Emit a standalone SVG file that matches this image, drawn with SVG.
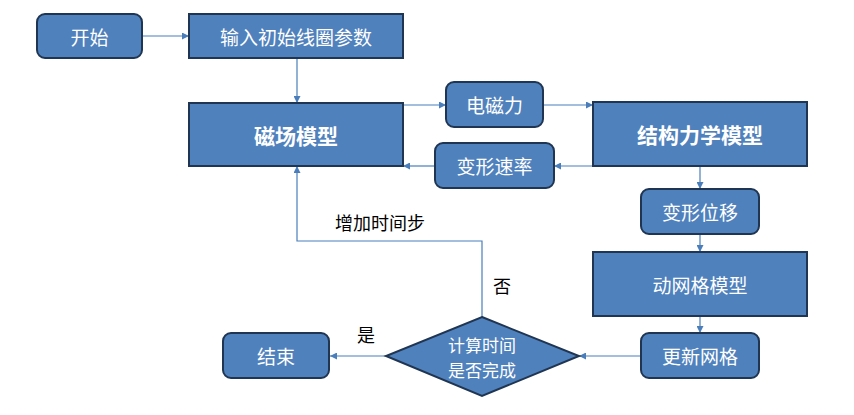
<svg xmlns="http://www.w3.org/2000/svg" width="854" height="415" viewBox="0 0 854 415">
<defs>
<marker id="ah" viewBox="0 0 10 10" refX="10" refY="5" markerWidth="7" markerHeight="7" markerUnits="userSpaceOnUse" orient="auto">
<path d="M0,0 L10,5 L0,10 z" fill="#4A7EBB"/>
</marker>
<style>
.n{fill:#4F81BD;stroke:#1F3552;stroke-width:2}
.t{fill:#fff;font-family:"Noto Sans CJK SC","Noto Sans",sans-serif;font-size:19px;text-anchor:middle;dominant-baseline:central}
.b{font-weight:bold;font-size:21px}
.d{font-size:17px}
.l{fill:#000;font-family:"Noto Sans CJK SC","Noto Sans",sans-serif;font-size:18px;text-anchor:middle;dominant-baseline:central}
.c{fill:none;stroke:#4A7EBB;stroke-width:1.2}
</style>
</defs>
<rect width="854" height="415" fill="#fff"/>
<g id="connectors">
<path class="c" d="M142,36 H189" marker-end="url(#ah)"/>
<path class="c" d="M297,58 V103" marker-end="url(#ah)"/>
<path class="c" d="M403,105 H446" marker-end="url(#ah)"/>
<path class="c" d="M543,105 H593" marker-end="url(#ah)"/>
<path class="c" d="M593,166 H554" marker-end="url(#ah)"/>
<path class="c" d="M435,166 H403" marker-end="url(#ah)"/>
<path class="c" d="M700,166 V189" marker-end="url(#ah)"/>
<path class="c" d="M700,234 V252" marker-end="url(#ah)"/>
<path class="c" d="M700,316 V333" marker-end="url(#ah)"/>
<path class="c" d="M641,356 H579" marker-end="url(#ah)"/>
<path class="c" d="M386,356 H330" marker-end="url(#ah)"/>
<path class="c" d="M482,317 V241 H297 V166" marker-end="url(#ah)"/>
<text class="l" x="380" y="222">增加时间步</text>
<text class="l" x="502" y="285">否</text>
<text class="l" x="366" y="334">是</text>
</g>
<g id="start"><rect class="n" x="37" y="14" width="105" height="44" rx="8"/><text class="t" x="89.5" y="36">开始</text></g>
<g id="input"><rect class="n" x="189" y="14" width="214" height="44"/><text class="t" x="296" y="36">输入初始线圈参数</text></g>
<g id="magnetic"><rect class="n" x="189" y="103" width="214" height="63"/><text class="t b" x="296" y="134.5">磁场模型</text></g>
<g id="emforce"><rect class="n" x="446" y="82" width="97" height="45" rx="8"/><text class="t" x="494.5" y="104.5">电磁力</text></g>
<g id="deformrate"><rect class="n" x="435" y="143" width="119" height="45" rx="8"/><text class="t" x="494.5" y="165.5">变形速率</text></g>
<g id="structural"><rect class="n" x="593" y="102" width="214" height="64"/><text class="t b" x="700" y="134">结构力学模型</text></g>
<g id="displacement"><rect class="n" x="641" y="189" width="118" height="45" rx="8"/><text class="t" x="700" y="211.5">变形位移</text></g>
<g id="dynmesh"><rect class="n" x="593" y="252" width="214" height="64"/><text class="t" x="700" y="284">动网格模型</text></g>
<g id="updatemesh"><rect class="n" x="641" y="333" width="118" height="45" rx="8"/><text class="t" x="700" y="355.5">更新网格</text></g>
<g id="decision"><path class="n" d="M482,317 L579,356 L482,396 L386,356 Z"/><text class="t d" x="482" y="344.5">计算时间</text><text class="t d" x="482" y="369.5">是否完成</text></g>
<g id="end"><rect class="n" x="223" y="333" width="106" height="45" rx="8"/><text class="t" x="276" y="355.5">结束</text></g>
</svg>
